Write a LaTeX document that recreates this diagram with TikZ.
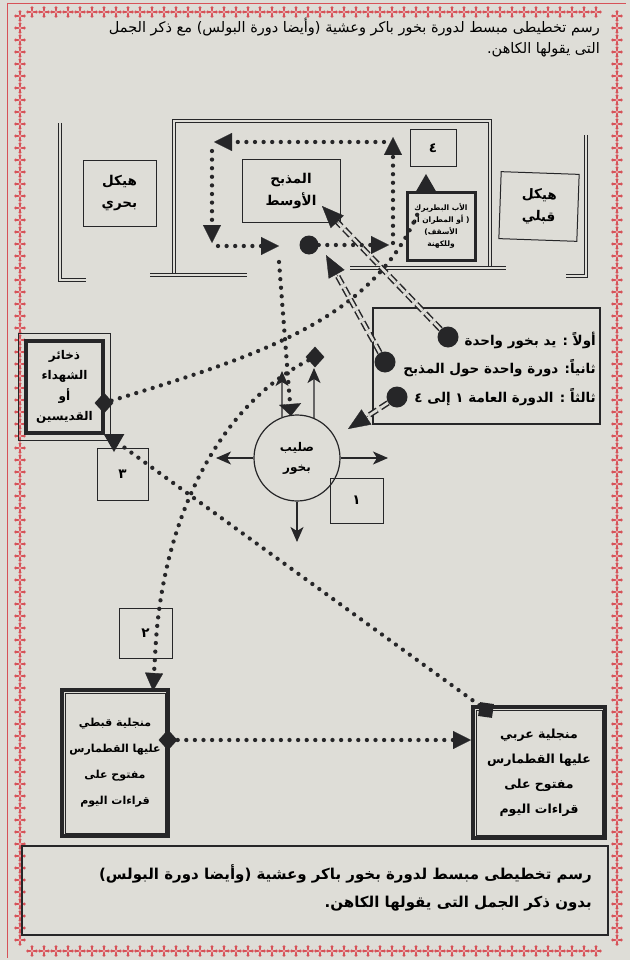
\documentclass[tikz,border=0pt]{standalone}
\usepackage{fontspec}
\usetikzlibrary{arrows.meta,shapes.geometric,calc}
\TeXXeTstate=1
\newfontfamily\arabicfont[Script=Arabic]{DejaVu Sans}
\newcommand{\AR}[1]{{\arabicfont\beginR #1\endR}}
\definecolor{paper}{RGB}{222,221,215}
\definecolor{ink}{RGB}{38,38,40}
\definecolor{bordred}{RGB}{214,82,88}
\tikzset{
  wall/.style={draw=ink, double=paper, double distance=2.2pt, line width=0.9pt},
  box/.style={draw=ink, line width=1pt, inner sep=0pt, align=center,
     font=\arabicfont\bfseries\fontsize{13.5}{22}\selectfont},
  dotline/.style={draw=ink, line width=4.3pt, line cap=round, dash pattern=on 0pt off 8.6pt},
  tipT/.style={-{Triangle[length=18pt,width=18pt,line width=0.3pt]}},
  flatT/.style={-{Triangle[length=12pt,width=22pt,line width=0.3pt]}},
  ddline/.style={draw=ink, double=paper, double distance=2.6pt, line width=1.5pt, dash pattern=on 9pt off 4pt},
  bigT/.style={draw=ink, line width=0.4pt, -{Triangle[length=22pt,width=18pt,line width=0.3pt]}},
  bigdot/.style={circle, fill=ink, minimum size=21pt, inner sep=0pt},
  midot/.style={circle, fill=ink, minimum size=19pt, inner sep=0pt},
  marker/.style={diamond, fill=ink, minimum width=19pt, minimum height=21pt, inner sep=0pt},
  sqmark/.style={rectangle, fill=ink, minimum size=14pt, inner sep=0pt, rotate=-8},
  tri/.style={regular polygon, regular polygon sides=3, fill=ink, minimum size=24pt, inner sep=0pt},
  sarrow/.style={draw=ink, line width=1.3pt, -{Stealth[length=15pt,width=13pt,inset=4pt]}},
  infotext/.style={anchor=east, inner sep=0pt, font=\arabicfont\bfseries\fontsize{13.5}{16}\selectfont},
  rc/.pic={\fill[bordred] (-1,-4.6) rectangle (1,4.6); \fill[bordred] (-4.6,-1) rectangle (4.6,1);
           \fill[bordred] (0,-4.2) circle (1.6); \fill[bordred] (0,4.2) circle (1.6);
           \fill[bordred] (-4.2,0) circle (1.6); \fill[bordred] (4.2,0) circle (1.6);
           \fill[bordred!55] (0,0) circle (1.6);},
}
\begin{document}
\begin{tikzpicture}[x=1pt,y=-1pt]
\fill[paper] (0,0) rectangle (630,960);
\useasboundingbox (0,0) rectangle (630,960);
% ---------- red border ----------
\draw[bordred, line width=0.8pt] (7,3) -- (7,958);
\draw[bordred, line width=0.8pt] (7,3) -- (626,3);
\foreach \yy in {16,28,...,950} { \pic at (20,\yy) {rc}; \pic at (617,\yy) {rc}; }
\foreach \xx in {32,44,...,606} { \pic at (\xx,12) {rc}; \pic at (\xx,951) {rc}; }
% ---------- title ----------
\node[anchor=north east, align=right, inner sep=0pt, font=\arabicfont\fontsize{14.5}{21}\selectfont] (title) at (600,18)
  {\AR{رسم تخطيطى مبسط لدورة بخور باكر وعشية (وأيضا دورة البولس) مع ذكر الجمل}\\\AR{التى يقولها الكاهن.}};
% ---------- walls ----------
\draw[wall] (60,123) -- (60,280) -- (86,280);
\draw[wall] (174,275) -- (174,121) -- (490,121) -- (490,268);
\draw[wall] (150,275) -- (247,275);
\draw[wall] (350,268) -- (506,268);
\draw[wall] (586,135) -- (586,276) -- (566,276);
% ---------- boxes ----------
\node[box, minimum width=73pt, minimum height=65pt] (bahari) at (119.5,193.5) {\AR{هيكل}\\\AR{بحري}};
\node[box, minimum width=98pt, minimum height=62pt] (altar) at (291,191) {\AR{المذبح}\\\AR{الأوسط}};
\node[box, minimum width=46pt, minimum height=37pt] (box4) at (433,148.5) {\AR{٤}};
\node[box, line width=3pt, minimum width=68pt, minimum height=68pt, font=\arabicfont\bfseries\fontsize{7.5}{12}\selectfont] (patr) at (441,226)
  {\AR{الأب البطريرك}\\\AR{( أو المطران أو}\\\AR{الأسقف)}\\\AR{وللكهنة}};
\node[box, minimum width=78pt, minimum height=67pt, rotate=-2] (qibli) at (539,206.5) {\AR{هيكل}\\\AR{قبلي}};
\node[box, line width=4.5pt, minimum width=77pt, minimum height=92pt, font=\arabicfont\bfseries\fontsize{12}{20.5}\selectfont] (relics) at (64.5,387)
  {\AR{ذخائر}\\\AR{الشهداء}\\\AR{أو}\\\AR{القديسين}};
\draw[ink, line width=0.8pt] ([shift={(-5,-5)}]relics.north west) rectangle ([shift={(5,5)}]relics.south east);
\node[box, minimum width=51pt, minimum height=52pt] (box3) at (122.5,474) {\AR{٣}};
\node[box, minimum width=53pt, minimum height=45pt] (box1) at (356.5,500.5) {\AR{١}};
\node[box, minimum width=53pt, minimum height=50pt] (box2) at (145.5,633) {\AR{٢}};
\node[circle, draw=ink, line width=1.2pt, minimum size=86pt, inner sep=0pt, align=center,
      font=\arabicfont\bfseries\fontsize{12}{20}\selectfont] (crossc) at (297,458) {\AR{صليب}\\\AR{بخور}};
\node[box, line width=4pt, minimum width=106pt, minimum height=146pt, font=\arabicfont\bfseries\fontsize{11}{26}\selectfont] (coptic) at (115,763)
  {\AR{منجلية قبطي}\\\AR{عليها القطمارس}\\\AR{مفتوح على}\\\AR{قراءات اليوم}};
\draw[ink, line width=0.7pt] ([shift={(5,5)}]coptic.north west) rectangle ([shift={(-5,-5)}]coptic.south east);
\node[box, line width=4pt, minimum width=132pt, minimum height=131pt, font=\arabicfont\bfseries\fontsize{12.5}{25}\selectfont] (arabic) at (539,772.5)
  {\AR{منجلية عربي}\\\AR{عليها القطمارس}\\\AR{مفتوح على}\\\AR{قراءات اليوم}};
\draw[ink, line width=0.7pt] ([shift={(5,5)}]arabic.north west) rectangle ([shift={(-5,-5)}]arabic.south east);
% ---------- info box ----------
\node[draw=ink, line width=1.1pt, minimum width=227pt, minimum height=116pt, inner sep=0pt] (info) at (486.5,366) {};
\node[infotext] (l1) at (596,340) {\AR{أولاً : يد بخور واحدة}};
\node[infotext] (l2) at (596,368) {\AR{ثانياً: دورة واحدة حول المذبح}};
\node[infotext] (l3) at (596,397) {\AR{ثالثاً : الدورة العامة ١ إلى ٤}};
\node[bigdot] (dot1) at (448,337) {};
\node[bigdot] (dot2) at (385,362) {};
\node[bigdot] (dot3) at (397,397) {};
% ---------- caption ----------
\node[draw=ink, line width=1.1pt, minimum width=586pt, minimum height=89pt, inner sep=0pt] (capbox) at (315,890.5) {};
\node[anchor=north east, align=right, inner sep=0pt, font=\arabicfont\bfseries\fontsize{15}{28}\selectfont] (caption) at (592,864)
  {\AR{رسم تخطيطى مبسط لدورة بخور باكر وعشية (وأيضا دورة البولس)}\\\AR{بدون ذكر الجمل التى يقولها الكاهن.}};
% ---------- markers ----------
\node[midot] (altdot) at (309,245) {};
\node[marker] (dR) at (104,403) {};
\node[marker] (dX) at (315,357) {};
\node[marker] (dC) at (168,740) {};
\node[sqmark] (sqA) at (486,710) {};
\node[tri] (tP) at (426,186) {};
\node[tri, rotate=180] (t3) at (114,440) {};
% ---------- loop round the altar ----------
\coordinate (lpA) at (389,245);
\coordinate (lpB0) at (393,243); \coordinate (lpB) at (393,137);
\coordinate (lpC0) at (384,142); \coordinate (lpC) at (214,142);
\coordinate (lpD0) at (212,151); \coordinate (lpD) at (212,243);
\coordinate (lpE0) at (218,246); \coordinate (lpE) at (279,246);
\coordinate (lpF0) at (279,262); \coordinate (lpF) at (291,416);
\draw[dotline,tipT] (altdot) -- (lpA);
\draw[dotline,tipT] (lpB0) -- (lpB);
\draw[dotline,tipT] (lpC0) -- (lpC);
\draw[dotline,tipT] (lpD0) -- (lpD);
\draw[dotline,tipT] (lpE0) -- (lpE);
\draw[dotline,flatT] (lpF0) -- (lpF);
% ---------- other dotted routes ----------
\coordinate (pIn) at (420,208);
\draw[dotline] (dR) .. controls (260,355) and (375,320) .. (pIn);
\coordinate (bend2) at (156,640);
\coordinate (copTop) at (153,691);
\draw[dotline,tipT] (dX) .. controls (220,405) and (165,515) .. (bend2) -- (copTop);
\coordinate (arIn) at (471,740);
\draw[dotline,tipT] (dC) -- (arIn);
\draw[dotline] (sqA) -- (t3);
% ---------- double dashed routes ----------
\coordinate (tipAlt) at (322,206);
\coordinate (tipCirc) at (326,255);
\coordinate (tipCross) at (348,429);
\draw[ddline] (dot1) -- ($(tipAlt)!19pt!(dot1)$);
\draw[bigT] ($(tipAlt)!24pt!(dot1)$) -- (tipAlt);
\draw[ddline] (dot2) -- ($(tipCirc)!19pt!(dot2)$);
\draw[bigT] ($(tipCirc)!24pt!(dot2)$) -- (tipCirc);
\draw[ddline] (dot3) -- ($(tipCross)!19pt!(dot3)$);
\draw[bigT] ($(tipCross)!24pt!(dot3)$) -- (tipCross);
% ---------- arrows of the censer cross ----------
\coordinate (xl) at (216,458);
\coordinate (xr) at (388,458);
\coordinate (xd) at (297,542);
\coordinate (xu1) at (282,371);
\coordinate (xu2) at (314,368);
\draw[sarrow] (crossc.west) -- (xl);
\draw[sarrow] (crossc.east) -- (xr);
\draw[sarrow] (crossc.south) -- (xd);
\draw[sarrow] (crossc.110) -- (xu1);
\draw[sarrow] (crossc.67) -- (xu2);
\end{tikzpicture}
\end{document}
